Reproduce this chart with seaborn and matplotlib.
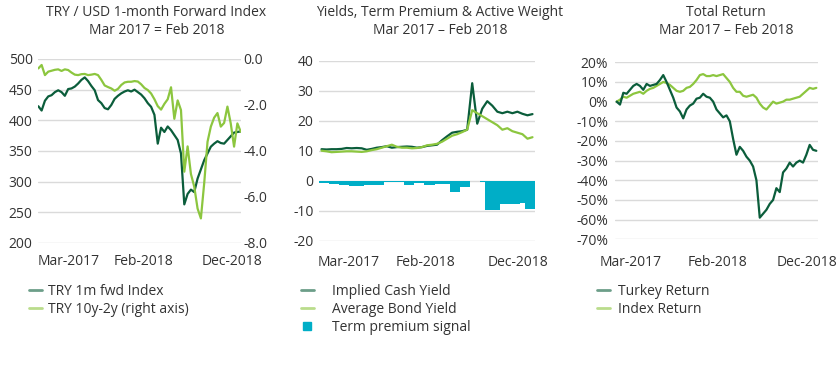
import numpy as np
import matplotlib
matplotlib.use("Agg")
import matplotlib.pyplot as plt
from matplotlib.lines import Line2D
from matplotlib.ticker import FuncFormatter, MultipleLocator
import seaborn as sns

DARK = "#0b5d3b"
LIGHT = "#8cc63f"
TEAL = "#00aec7"
TEXT = "#333333"
GRID = "#dadada"

DATE_LABELS = ["Mar-2017", "Feb-2018", "Dec-2018"]

# left panel: TRY / USD forward index and the 10y-2y curve (right axis)
fwd_index = [423, 416, 432, 439, 441, 446, 449, 446, 440, 451,
             452, 455, 460, 466, 470, 464, 456, 449, 433, 428,
             420, 418, 425, 435, 440, 444, 447, 449, 447, 450,
             446, 442, 436, 428, 422, 409, 362, 388, 381, 390,
             384, 376, 368, 346, 263, 280, 287, 283, 305, 320,
             335, 346, 357, 362, 366, 363, 362, 368, 374, 380,
             381, 382]
curve_10y2y = [-0.41, -0.26, -0.70, -0.55, -0.51, -0.47, -0.45, -0.52, -0.45, -0.48,
               -0.59, -0.68, -0.70, -0.66, -0.65, -0.70, -0.68, -0.65, -0.70, -0.91,
               -1.15, -1.22, -1.28, -1.38, -1.30, -1.13, -1.02, -0.99, -0.99, -0.96,
               -0.98, -1.10, -1.26, -1.35, -1.50, -1.75, -2.05, -2.20, -1.95, -1.75,
               -1.23, -2.60, -1.80, -2.22, -4.90, -3.80, -5.00, -5.55, -6.50, -6.93,
               -5.40, -3.60, -2.94, -2.55, -2.35, -2.94, -2.78, -2.07, -2.80, -3.81,
               -2.80, -3.16]

# middle panel: yields and term premium signal
cash_yield = [10.5, 10.4, 10.5, 10.5, 10.6, 10.9, 10.8, 10.9, 10.8, 10.3,
              10.6, 11.0, 11.2, 11.5, 11.0, 11.2, 11.3, 11.4, 11.3, 11.0,
              11.2, 11.6, 11.8, 12.0, 13.5, 14.8, 16.0, 16.3, 16.5, 17.0,
              32.5, 19.0, 24.0, 26.5, 25.0, 23.0, 22.5, 23.0, 22.5, 23.0,
              22.3, 21.8, 22.2]
bond_yield = [10.0, 9.8, 9.5, 9.6, 9.7, 9.8, 9.8, 9.7, 9.6, 9.8,
              10.2, 10.5, 11.0, 11.5, 12.0, 11.3, 11.0, 11.0, 10.8, 10.9,
              11.2, 11.8, 12.0, 12.3, 13.0, 14.0, 15.0, 15.5, 16.2, 17.0,
              23.5, 22.5, 21.5, 20.5, 19.5, 18.5, 17.0, 17.5, 16.5, 16.0,
              15.5, 14.0, 14.5]
term_premium = [-0.6, -0.7, -1.0, -1.2, -1.4, -1.5, -1.7, -1.8, -1.6, -1.4,
                -1.4, -1.4, -1.3, -0.3, -0.3, -0.3, -0.3, -1.5, -1.5, -0.8,
                -0.8, -1.5, -1.5, -1.0, -1.2, -1.2, -3.6, -3.6, -2.0, -2.0,
                0.0, 0.0, -0.3, -9.7, -9.7, -9.7, -7.8, -7.8, -7.8, -7.7,
                -7.5, -9.4, -9.4]

# right panel: total returns in %
turkey_return = [0, -1.5, 4.5, 4, 6, 8, 9, 8, 6, 9,
                 8, 8.5, 9, 11, 13.5, 10, 6, 2, -3, -5,
                 -8.5, -4, -2, -1, 1.5, 2, 4, 2.5, 2, 0,
                 -4, -6, -8, -7, -10, -19, -27, -23, -25, -28,
                 -30, -33, -40, -59, -57, -55, -52, -50, -44, -46,
                 -36, -34, -31, -33, -31, -30, -31, -27, -22, -24.5,
                 -25]
index_return = [0, 1, 2.5, 2, 3, 4, 4.5, 5, 4, 5.5,
                6.5, 7, 8, 9, 10, 9.5, 8.5, 7, 5.5, 5,
                5.5, 7, 7.5, 9, 11, 13.5, 14, 13, 13, 13.5,
                13, 13.5, 14, 12, 10, 7, 5, 5, 3, 2.5,
                3, 3.5, 2, -1, -3, -4, -2, 0, -1, -0.5,
                0, 1, 1, 1.5, 2, 2.5, 4, 5.5, 7, 6.5,
                7]

sns.set_theme(style="white")
plt.rcParams["font.family"] = ["Open Sans", "DejaVu Sans"]
plt.rcParams["axes.unicode_minus"] = False
W, H = 840, 368


def style_axis(ax):
    for s in ax.spines.values():
        s.set_visible(False)
    ax.tick_params(length=0, labelsize=10, colors=TEXT)
    ax.yaxis.grid(True, color=GRID, lw=1)
    ax.xaxis.grid(False)
    ax.set_xlabel("")
    ax.set_ylabel("")


def box(left, top, right, bottom):
    return [left / W, 1 - bottom / H, (right - left) / W, (bottom - top) / H]


fig = plt.figure(figsize=(8.4, 3.68), dpi=100)
fig.patch.set_facecolor("white")

# ---- left panel
ax1 = fig.add_axes(box(38.3, 59, 240.7, 243))
x1 = np.arange(len(fwd_index))
sns.lineplot(x=x1, y=fwd_index, color=DARK, lw=1.6, ax=ax1)
ax1r = ax1.twinx()
sns.lineplot(x=x1, y=curve_10y2y, color=LIGHT, lw=1.6, ax=ax1r)
ax1.set_ylim(200, 500)
ax1.yaxis.set_major_locator(MultipleLocator(50))
ax1r.set_ylim(-8, 0)
ax1r.yaxis.set_major_locator(MultipleLocator(2))
ax1r.yaxis.set_major_formatter(FuncFormatter(lambda v, _: f"{v + 0.0:.1f}"))
ax1.set_xlim(0, len(fwd_index) - 1)
style_axis(ax1)
style_axis(ax1r)
ax1r.yaxis.grid(False)
ax1.set_xticks([9.3, 31.6, 58.4], DATE_LABELS)
ax1.tick_params(axis="x", pad=8)
ax1.tick_params(axis="y", pad=4)
ax1r.tick_params(axis="y", pad=2)

# ---- middle panel
ax2 = fig.add_axes(box(319, 60.7, 535, 240.7))
x2 = np.arange(len(cash_yield))
sns.barplot(x=x2, y=term_premium, native_scale=True, color=TEAL, width=1,
            errorbar=None, saturation=1, linewidth=0, ax=ax2)
sns.lineplot(x=x2, y=cash_yield, color=DARK, lw=1.6, ax=ax2)
sns.lineplot(x=x2, y=bond_yield, color=LIGHT, lw=1.6, ax=ax2)
ax2.set_ylim(-20, 40)
ax2.yaxis.set_major_locator(MultipleLocator(10))
ax2.set_xlim(-0.5, len(cash_yield) - 0.5)
style_axis(ax2)
ax2.set_xticks([5.5, 20.8, 39.1], DATE_LABELS)
ax2.tick_params(axis="x", pad=10)
ax2.tick_params(axis="y", pad=4)

# ---- right panel
ax3 = fig.add_axes(box(615, 62.3, 818, 239.3))
x3 = np.arange(len(turkey_return))
sns.lineplot(x=x3, y=index_return, color=LIGHT, lw=1.6, ax=ax3)
sns.lineplot(x=x3, y=turkey_return, color=DARK, lw=1.6, ax=ax3)
ax3.set_ylim(-70, 20)
ax3.yaxis.set_major_locator(MultipleLocator(10))
ax3.yaxis.set_major_formatter(FuncFormatter(lambda v, _: f"{v:.0f}%"))
ax3.set_xlim(-0.5, len(turkey_return) - 0.5)
style_axis(ax3)
ax3.set_xticks([4.2, 30.4, 57.1], DATE_LABELS)
ax3.tick_params(axis="x", pad=11)
ax3.tick_params(axis="y", pad=5)

# ---- titles
titles = [(156.5, "TRY / USD 1-month Forward Index\nMar 2017 = Feb 2018"),
          (440, "Yields, Term Premium & Active Weight\nMar 2017 \u2013 Feb 2018"),
          (726, "Total Return\nMar 2017 \u2013 Feb 2018")]
for xc, t in titles:
    fig.text(xc / W, 1 - 5 / H, t, ha="center", va="top", fontsize=10,
             color=TEXT, linespacing=1.25)


# ---- legends
def line_handle(c):
    return Line2D([], [], color=c, lw=2, alpha=0.6)


square = Line2D([], [], color=TEAL, ls="none", marker="s", markersize=6)

leg_kw = dict(loc="upper left", frameon=False, fontsize=10, labelcolor=TEXT,
              borderpad=0, borderaxespad=0, labelspacing=0.2, handlelength=0.9)
fig.legend([line_handle(DARK), line_handle(LIGHT)],
           ["TRY 1m fwd Index", "TRY 10y-2y (right axis)"],
           bbox_to_anchor=(29 / W, 1 - 284 / H), handletextpad=0.5, **leg_kw)
fig.legend([line_handle(DARK), line_handle(LIGHT), square],
           ["Implied Cash Yield", "Average Bond Yield", "Term premium signal"],
           bbox_to_anchor=(301 / W, 1 - 284 / H), handletextpad=1.3, **leg_kw)
fig.legend([line_handle(DARK), line_handle(LIGHT)],
           ["Turkey Return", "Index Return"],
           bbox_to_anchor=(597 / W, 1 - 284 / H), handletextpad=0.6, **leg_kw)

fig.savefig("out.png", dpi=100, facecolor="white")
